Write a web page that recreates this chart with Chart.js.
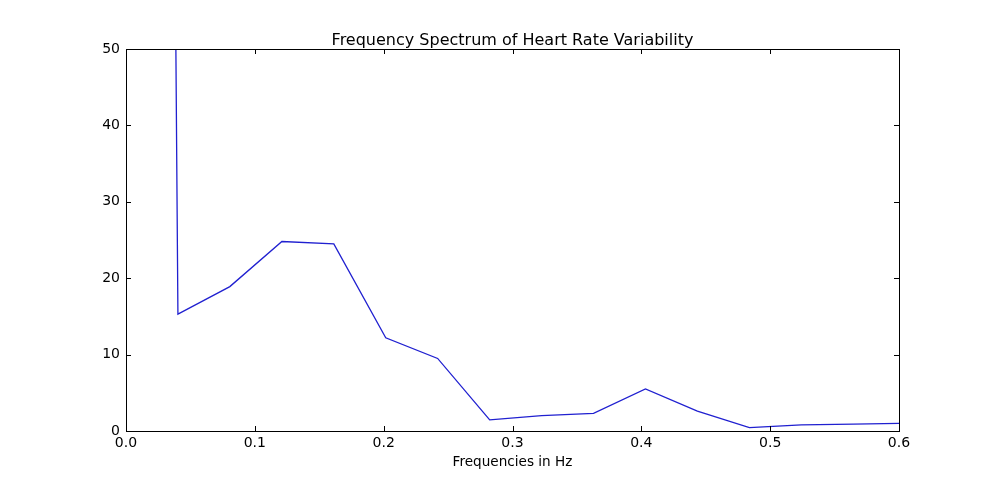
<!DOCTYPE html>
<html>
<head>
<meta charset="utf-8">
<script src="https://cdn.jsdelivr.net/npm/chart.js@4"></script>
<style>
  body { margin: 0; background: #fff; }
</style>
</head>
<body>
<canvas id="myChart" width="1000" height="481"></canvas>
<script>
  // frequencies (Hz) and spectral power
  const freqs = [0, 0.0403, 0.0806, 0.1210, 0.1613, 0.2016, 0.2419, 0.2823, 0.3226,
    0.3629, 0.4032, 0.4435, 0.4839, 0.5242, 0.5645, 0.6048]
  const power = [900, 15.3, 18.9, 24.8, 24.5, 12.2, 9.5, 1.45, 2.0,
    2.3, 5.5, 2.6, 0.45, 0.8, 0.9, 1.0]
  const xTicks = [0, 0.1, 0.2, 0.3, 0.4, 0.5, 0.6]
  const yTicks = [0, 10, 20, 30, 40, 50]
  const titleText = 'Frequency Spectrum of Heart Rate Variability'

  const font = 'DejaVu Sans'

  // box round the plot, inward ticks on all four sides, title over the plot
  const frame = {
    id: 'frame',
    afterDraw(chart) {
      const { ctx, chartArea: a, scales } = chart
      const len = 5
      ctx.save()
      ctx.strokeStyle = '#000'
      ctx.lineWidth = 1
      ctx.beginPath()
      xTicks.forEach(v => {
        const x = Math.round(scales.x.getPixelForValue(v)) + 0.5
        ctx.moveTo(x, a.bottom); ctx.lineTo(x, a.bottom - len)
        ctx.moveTo(x, a.top); ctx.lineTo(x, a.top + len)
      })
      yTicks.forEach(v => {
        const y = Math.round(scales.y.getPixelForValue(v)) + 0.5
        ctx.moveTo(a.left, y); ctx.lineTo(a.left + len, y)
        ctx.moveTo(a.right, y); ctx.lineTo(a.right - len, y)
      })
      ctx.stroke()
      ctx.strokeRect(Math.round(a.left) + 0.5, Math.round(a.top) + 0.5,
        Math.round(a.right - a.left), Math.round(a.bottom - a.top))

      ctx.fillStyle = '#000'
      ctx.font = '16px "' + font + '"'
      ctx.textAlign = 'center'
      ctx.textBaseline = 'middle'
      ctx.fillText(titleText, (a.left + a.right) / 2, 40.5)
      ctx.restore()
    }
  }

  const ctx = document.getElementById('myChart')
  new Chart(ctx, {
    type: 'line',
    data: {
      datasets: [{
        data: freqs.map((f, i) => ({ x: f, y: power[i] })),
        borderColor: '#2020d0',
        borderWidth: 1.3,
        pointRadius: 0,
        tension: 0,
        fill: false
      }]
    },
    options: {
      responsive: false,
      animation: false,
      layout: { padding: { left: 0, right: 101, top: 49, bottom: 0 } },
      plugins: {
        legend: { display: false },
        tooltip: { enabled: false },
        title: { display: false }
      },
      scales: {
        x: {
          type: 'linear',
          min: 0,
          max: 0.6,
          afterFit(s) { s.height = 50 },
          afterBuildTicks(s) { s.ticks = xTicks.map(v => ({ value: v })) },
          grid: { display: false, drawTicks: false },
          border: { display: false },
          ticks: {
            color: '#000',
            padding: 4,
            maxRotation: 0,
            font: { family: font, size: 14 },
            callback: v => v.toFixed(1)
          },
          title: {
            display: true,
            text: 'Frequencies in Hz',
            color: '#000',
            font: { family: font, size: 13.6 },
            padding: { top: 0, bottom: 10.5 }
          }
        },
        y: {
          min: 0,
          max: 50,
          afterFit(s) { s.width = 126 },
          afterBuildTicks(s) { s.ticks = yTicks.map(v => ({ value: v })) },
          grid: { display: false, drawTicks: false },
          border: { display: false },
          ticks: {
            color: '#000',
            padding: 6,
            font: { family: font, size: 14 }
          }
        }
      }
    },
    plugins: [frame]
  })
</script>
</body>
</html>
